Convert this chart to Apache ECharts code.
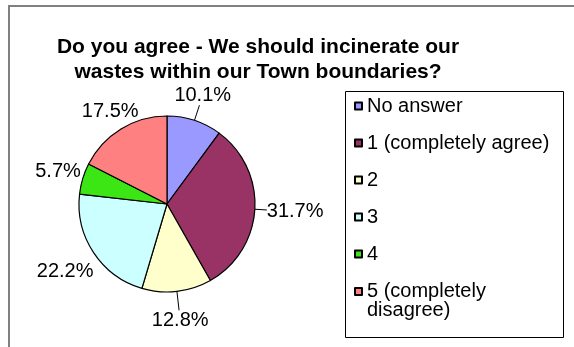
<!DOCTYPE html>
<html><head><meta charset="utf-8">
<script src="https://cdn.jsdelivr.net/npm/echarts@6/dist/echarts.min.js"></script>
<style>html,body{margin:0;padding:0;background:#fff}#c{width:574px;height:347px}</style>
</head><body><div id="c"></div>
<script>
const categories = ['No answer', '1 (completely agree)', '2', '3', '4', '5 (completely disagree)'];
const percentValues = [10.1, 31.7, 12.8, 22.2, 5.7, 17.5];
const sliceColors = ['#9999FF', '#993366', '#FFFFCC', '#CCFFFF', '#3CE614', '#FF8080'];
const showLeader = [true, true, true, false, false, false];
const leaderLength = [16, 12, 19, 16, 2, 9];
const titleLines = ['Do you agree - We should incinerate our', 'wastes within our Town boundaries?'];

const FONT = '"Liberation Sans", Arial, Helvetica, sans-serif';
const chart = echarts.init(document.getElementById('c'), null, {renderer: 'canvas'});

const pieData = categories.map((name, i) => ({
  name: name,
  value: percentValues[i],
  itemStyle: {color: sliceColors[i]},
  labelLine: {show: showLeader[i], length: leaderLength[i]}
}));

function placeLabel(params) {
  const pts = params.labelLinePoints;
  if (!pts) return {};
  const e = pts[0], a = pts[1];
  let dx = a[0] - e[0], dy = a[1] - e[1];
  const len = Math.hypot(dx, dy) || 1;
  dx /= len; dy /= len;
  const hw = params.labelRect.width / 2, hh = params.labelRect.height / 2;
  const tx = Math.abs(dx) > 1e-6 ? hw / Math.abs(dx) : Infinity;
  const ty = Math.abs(dy) > 1e-6 ? hh / Math.abs(dy) : Infinity;
  const t = Math.min(tx, ty);
  return {
    x: a[0] + dx * t,
    y: a[1] + dy * t,
    align: 'center',
    verticalAlign: 'middle',
    labelLinePoints: [e, a, a]
  };
}

const legendText = {fontFamily: FONT, fontSize: 20, color: '#000', lineHeight: 20};

chart.setOption({
  backgroundColor: '#ffffff',
  animation: false,
  title: {
    text: titleLines.join('\n'),
    left: 258,
    top: 35,
    textAlign: 'center',
    padding: 0,
    textStyle: {fontFamily: FONT, fontSize: 21, fontWeight: 'bold', color: '#000', lineHeight: 25}
  },
  legend: [
    {
      orient: 'vertical', left: 354, top: 96, padding: 0,
      itemWidth: 7, itemHeight: 7, itemGap: 17, icon: 'rect',
      selectedMode: false,
      data: categories.slice(0, 5),
      textStyle: legendText
    },
    {
      orient: 'vertical', left: 354, top: 262.5, padding: 0,
      itemWidth: 7, itemHeight: 7, icon: 'rect',
      selectedMode: false,
      data: categories.slice(5),
      formatter: n => '\n' + n.replace(' disagree', '\ndisagree'),
      textStyle: Object.assign({}, legendText, {lineHeight: 19})
    }
  ],
  graphic: [
    {type: 'rect', silent: true, z: -10, shape: {x: 9, y: 6, width: 700, height: 500},
     style: {fill: null, stroke: '#808080', lineWidth: 2}},
    {type: 'rect', silent: true, z: -10, shape: {x: 345.5, y: 91.5, width: 218, height: 246},
     style: {fill: null, stroke: '#000', lineWidth: 1}}
  ],
  series: [{
    type: 'pie',
    center: [167, 204],
    radius: 88,
    startAngle: 90,
    clockwise: true,
    avoidLabelOverlap: false,
    data: pieData,
    itemStyle: {borderColor: '#000', borderWidth: 1.2},
    emphasis: {disabled: true},
    label: {
      show: true, position: 'outside',
      formatter: p => p.value.toFixed(1) + '%',
      fontFamily: FONT, fontSize: 20, color: '#000', lineHeight: 16
    },
    labelLine: {show: true, length: 16, length2: 0, lineStyle: {color: '#000', width: 1}},
    labelLayout: placeLabel
  }]
});
</script>
</body></html>
